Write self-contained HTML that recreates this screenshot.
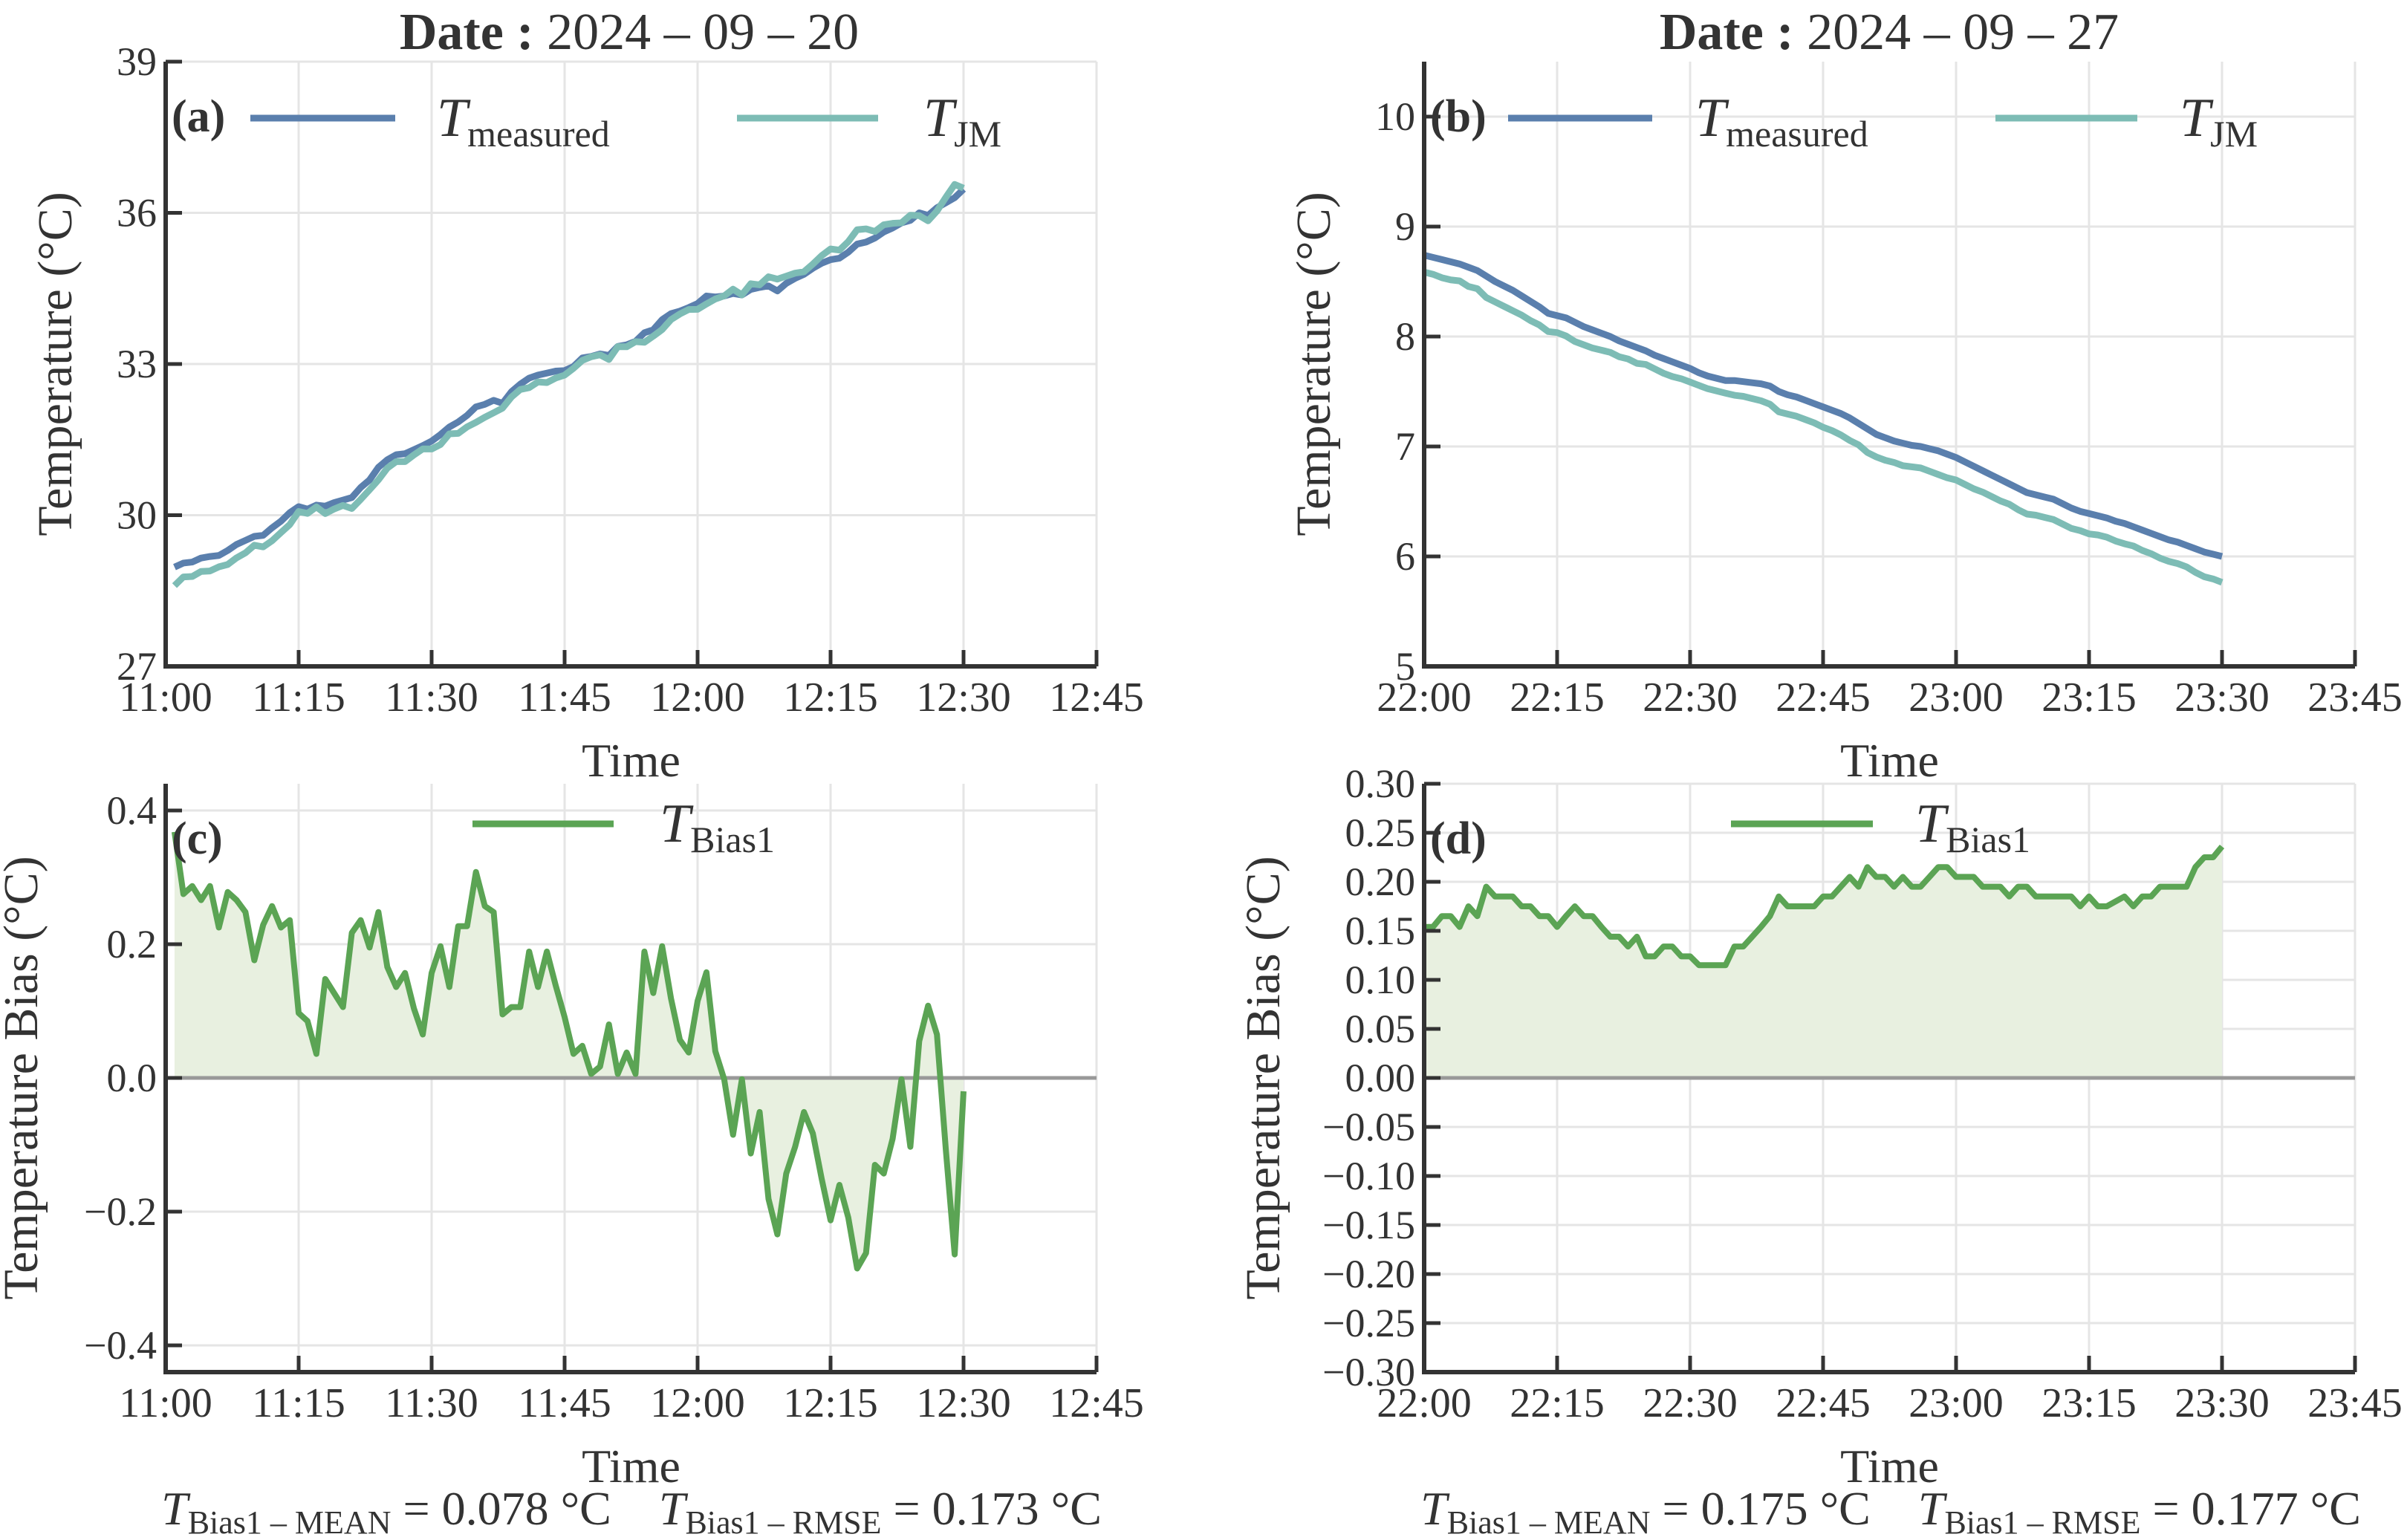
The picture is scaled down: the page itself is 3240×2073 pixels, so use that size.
<!DOCTYPE html>
<html><head><meta charset="utf-8"><style>
html,body{margin:0;padding:0;background:#fff;}
svg{display:block;}
svg text{font-family:"Liberation Serif","DejaVu Serif",serif;}
</style></head><body>
<svg id="chart" width="3240" height="2073" viewBox="0 0 3240 2073" xmlns="http://www.w3.org/2000/svg" font-family="Liberation Serif, serif"></svg>
<script>
// ---- Data ----
const minutesA = Array.from({length:90},(_, i)=>i+1); // 11:01..12:30
const measuredA = [28.97,29.05,29.07,29.15,29.18,29.2,29.3,29.42,29.5,29.58,
29.6,29.75,29.88,30.05,30.17,30.12,30.2,30.18,30.25,30.3,
30.35,30.55,30.7,30.95,31.1,31.2,31.22,31.3,31.38,31.47,
31.6,31.75,31.85,31.98,32.15,32.2,32.28,32.22,32.45,32.6,
32.72,32.78,32.82,32.86,32.87,32.95,33.12,33.15,33.2,33.17,
33.35,33.38,33.45,33.62,33.68,33.88,34.0,34.05,34.12,34.2,
34.35,34.33,34.35,34.4,34.37,34.48,34.52,34.55,34.45,34.6,
34.7,34.78,34.9,35.0,35.07,35.1,35.22,35.38,35.42,35.5,
35.62,35.7,35.8,35.85,36.0,35.95,36.1,36.2,36.3,36.47];
const biasA = [0.368,0.275,0.287,0.266,0.287,0.225,0.278,0.266,0.248,0.176,
0.229,0.257,0.225,0.236,0.097,0.085,0.036,0.148,0.127,0.106,
0.217,0.236,0.195,0.248,0.166,0.136,0.157,0.104,0.065,0.157,
0.197,0.136,0.227,0.227,0.308,0.257,0.248,0.095,0.106,0.106,
0.189,0.136,0.189,0.138,0.091,0.036,0.048,0.006,0.017,0.080,
0.006,0.038,0.006,0.189,0.127,0.197,0.119,0.057,0.038,0.115,
0.158,0.040,-0.002,-0.085,-0.002,-0.113,-0.051,-0.181,-0.234,-0.143,
-0.103,-0.051,-0.083,-0.151,-0.213,-0.160,-0.209,-0.285,-0.262,-0.130,
-0.143,-0.091,-0.002,-0.103,0.055,0.108,0.065,-0.107,-0.264,-0.020];
const minutesB = Array.from({length:91},(_, i)=>i); // 22:00..23:30
const measuredB = [8.74,8.72,8.70,8.68,8.66,8.63,8.60,8.55,8.50,8.46,8.42,
8.37,8.32,8.27,8.21,8.19,8.17,8.13,8.09,8.06,8.03,
8.00,7.96,7.93,7.90,7.87,7.83,7.80,7.77,7.74,7.71,
7.67,7.64,7.62,7.60,7.60,7.59,7.58,7.57,7.55,7.50,
7.47,7.45,7.42,7.39,7.36,7.33,7.30,7.26,7.21,7.16,
7.11,7.08,7.05,7.03,7.01,7.00,6.98,6.96,6.93,6.90,
6.86,6.82,6.78,6.74,6.70,6.66,6.62,6.58,6.56,6.54,
6.52,6.48,6.44,6.41,6.39,6.37,6.35,6.32,6.30,6.27,
6.24,6.21,6.18,6.15,6.13,6.10,6.07,6.04,6.02,6.00];
const biasB = [0.154,0.154,0.165,0.165,0.154,0.175,0.165,0.195,0.185,0.185,0.185,
0.175,0.175,0.165,0.165,0.154,0.165,0.175,0.165,0.165,0.154,
0.144,0.144,0.134,0.144,0.124,0.124,0.134,0.134,0.124,0.124,
0.115,0.115,0.115,0.115,0.134,0.134,0.144,0.154,0.165,0.185,
0.175,0.175,0.175,0.175,0.185,0.185,0.195,0.205,0.195,0.215,
0.205,0.205,0.195,0.205,0.195,0.195,0.205,0.215,0.215,0.205,
0.205,0.205,0.195,0.195,0.195,0.185,0.195,0.195,0.185,0.185,
0.185,0.185,0.185,0.175,0.185,0.175,0.175,0.180,0.185,0.175,
0.185,0.185,0.195,0.195,0.195,0.195,0.215,0.225,0.225,0.236];
// JM model = measured - bias (bias defined as measured minus model)
const jmA = measuredA.map((v,i)=>v-biasA[i]);
const jmB = measuredB.map((v,i)=>v-biasB[i]);
const xTicksA = ["11:00","11:15","11:30","11:45","12:00","12:15","12:30","12:45"];
const xTicksB = ["22:00","22:15","22:30","22:45","23:00","23:15","23:30","23:45"];
const yTicksA = [27,30,33,36,39];
const yTicksB = [5,6,7,8,9,10];
const yTicksC = [-0.4,-0.2,0.0,0.2,0.4];
const yTicksD = [-0.30,-0.25,-0.20,-0.15,-0.10,-0.05,0.00,0.05,0.10,0.15,0.20,0.25,0.30];

const NS="http://www.w3.org/2000/svg";
const svg=document.getElementById('chart');
const FONT='"Liberation Serif", "DejaVu Serif", serif';
function mk(tag,attrs,parent){const e=document.createElementNS(NS,tag);for(const k in attrs)e.setAttribute(k,attrs[k]);if(tag==='text')e.style.fontFamily=FONT;(parent||svg).appendChild(e);return e;}
const C_AX="#333333",C_M="#5a7fad",C_J="#7dbcb5",C_B="#5ba454";

function panel(o){
  const g=mk('g',{});
  
  
  const L=o.L,R=o.R,T=o.T,B=o.B;
  const sx=m=>L+(m/105)*(R-L);
  const sy=v=>B-(v-o.ymin)/(o.ymax-o.ymin)*(B-T);
  for(let i=0;i<o.xt.length;i++){
    const x=sx(i*15);
    const gl=mk('line',{x1:x,x2:x,y1:T,y2:B,stroke:"#e5e5e5","stroke-width":3},g);
    
    
  }
  o.yTicks.forEach(v=>{
    const y=sy(v);
    const gl=mk('line',{x1:L,x2:R,y1:y,y2:y,stroke:"#e5e5e5","stroke-width":3},g);
    
    
  });
  if(o.bias){
    const y0=sy(0);
    let d=`M${sx(o.mins[0])},${y0}`;
    o.bias.forEach((v,i)=>{d+=` L${sx(o.mins[i])},${sy(v)}`;});
    d+=` L${sx(o.mins[o.mins.length-1])},${y0} Z`;
    const f=mk('path',{d:d,fill:"#e8f0e0",stroke:"none"},g);
    
    
    const z=mk('line',{x1:L,x2:R,y1:y0,y2:y0,stroke:"#999999","stroke-width":5},g);
    
    
    const p=mk('polyline',{points:o.bias.map((v,i)=>sx(o.mins[i])+","+sy(v)).join(" "),fill:"none",stroke:C_B,"stroke-width":8,"stroke-linejoin":"round"},g);
    
    
  } else {
    const p1=mk('polyline',{points:o.meas.map((v,i)=>sx(o.mins[i])+","+sy(v)).join(" "),fill:"none",stroke:C_M,"stroke-width":9,"stroke-linejoin":"round"},g);
    
    
    const p2=mk('polyline',{points:o.jm.map((v,i)=>sx(o.mins[i])+","+sy(v)).join(" "),fill:"none",stroke:C_J,"stroke-width":9,"stroke-linejoin":"round"},g);
    
    
  }
  const sp=mk('path',{d:`M${L},${T} L${L},${B} L${R},${B}`,fill:"none",stroke:C_AX,"stroke-width":6},g);
  
  
  o.xt.forEach((t,i)=>{
    const x=sx(i*15);
    const tk=mk('line',{x1:x,x2:x,y1:B,y2:B-22,stroke:C_AX,"stroke-width":5},g);
    
    
    const tx=mk('text',{x:x,y:B+60,"text-anchor":"middle","font-size":56,fill:C_AX},g);
    tx.textContent=t;
    
    
  });
  o.yTicks.forEach(v=>{
    const y=sy(v);
    const tk=mk('line',{x1:L,x2:L+22,y1:y,y2:y,stroke:C_AX,"stroke-width":5},g);
    
    
    const tx=mk('text',{x:L-12,y:y+18,"text-anchor":"end","font-size":54,fill:C_AX},g);
    tx.textContent=o.fmt(v);
    
    
  });
  const yl=mk('text',{x:0,y:0,"text-anchor":"middle","font-size":66,fill:C_AX,transform:`translate(${o.ylx},${(T+B)/2}) rotate(-90)`},g);
  yl.textContent=o.ylabel;
  
  
  const xl=mk('text',{x:(L+R)/2,y:o.xly,"text-anchor":"middle","font-size":64,fill:C_AX},g);
  xl.textContent="Time";
  
  
  const pl=mk('text',{x:L+8,y:T+94,"font-size":62,"font-weight":"bold",fill:C_AX},g);
  pl.textContent=o.letter;
  
  
  return {g,sx,sy};
}
function legendEntry(g,x1,x2,y,color,tx,sub){
  const ln=mk('line',{x1:x1,x2:x2,y1:y,y2:y,stroke:color,"stroke-width":9},g);
  
  
  const t=mk('text',{x:tx,y:y+24,"font-size":74,fill:C_AX},g);
  
  
  const a=mk('tspan',{"font-style":"italic"},t);a.textContent="T";
  const b=mk('tspan',{"font-size":50,dy:14},t);b.textContent=sub;
}
function title(x,txt){
  const t=mk('text',{x:x,y:66,"text-anchor":"middle","font-size":70,fill:C_AX});
  
  
  const a=mk('tspan',{"font-weight":"bold"},t);a.textContent="Date : ";
  const b=mk('tspan',{},t);b.textContent=txt;
}
function stats(x,mean,rmse){
  const t=mk('text',{x:x,y:2052,"text-anchor":"middle","font-size":64,fill:C_AX});
  t.setAttribute('xml:space','preserve');
  
  
  const p=(s,a)=>{const e=mk('tspan',a||{},t);e.textContent=s;return e;};
  p("T",{"font-style":"italic"});p("Bias1 \u2013 MEAN",{"font-size":44,dy:12});
  p(" = "+mean+" \u00B0C\u2003",{dy:-12});
  p("T",{"font-style":"italic"});p("Bias1 \u2013 RMSE",{"font-size":44,dy:12});
  p(" = "+rmse+" \u00B0C",{dy:-12});
}

const fmtInt=v=>String(v);
const fmt1=v=>(v<0?"\u2212":"")+Math.abs(v).toFixed(1);
const fmt2=v=>(v<0?"\u2212":"")+Math.abs(v).toFixed(2);

title(847,"2024 \u2013 09 \u2013 20");
title(2543,"2024 \u2013 09 \u2013 27");

const pa=panel({name:"panel-a-temperature",L:223,R:1476,T:83,B:897,ymin:27,ymax:39,yTicks:yTicksA,xt:xTicksA,fmt:fmtInt,mins:minutesA,meas:measuredA,jm:jmA,ylabel:"Temperature (\u00B0C)",ylx:96,xly:1045,letter:"(a)"});
legendEntry(pa.g,337,532,159,C_M,588,"measured");
legendEntry(pa.g,992,1182,159,C_J,1243,"JM");

const pb=panel({name:"panel-b-temperature",L:1917,R:3170,T:83,B:897,ymin:5,ymax:10.5,yTicks:yTicksB,xt:xTicksB,fmt:fmtInt,mins:minutesB,meas:measuredB,jm:jmB,ylabel:"Temperature (\u00B0C)",ylx:1790,xly:1045,letter:"(b)"});
legendEntry(pb.g,2030,2224,159,C_M,2282,"measured");
legendEntry(pb.g,2686,2877,159,C_J,2934,"JM");

const pc=panel({name:"panel-c-bias",L:223,R:1476,T:1055,B:1847,ymin:-0.44,ymax:0.44,yTicks:yTicksC,xt:xTicksA,fmt:fmt1,mins:minutesA,bias:biasA,ylabel:"Temperature Bias (\u00B0C)",ylx:50,xly:1995,letter:"(c)"});
legendEntry(pc.g,636,826,1109,C_B,888,"Bias1");

const pd=panel({name:"panel-d-bias",L:1917,R:3170,T:1055,B:1847,ymin:-0.30,ymax:0.30,yTicks:yTicksD,xt:xTicksB,fmt:fmt2,mins:minutesB,bias:biasB,ylabel:"Temperature Bias (\u00B0C)",ylx:1722,xly:1995,letter:"(d)"});
legendEntry(pd.g,2330,2521,1109,C_B,2578,"Bias1");

stats(850,"0.078","0.173");
stats(2545,"0.175","0.177");
</script>
</body></html>
